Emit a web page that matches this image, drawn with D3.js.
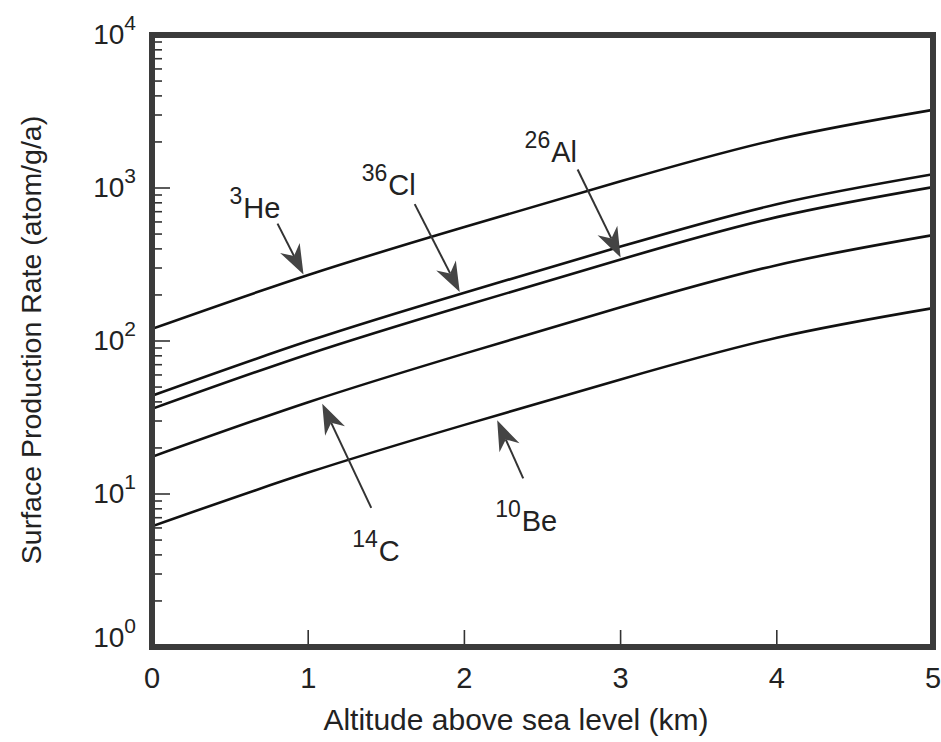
<!DOCTYPE html>
<html>
<head>
<meta charset="utf-8">
<script src="https://cdn.jsdelivr.net/npm/d3@7"></script>
<style>
  body { margin: 0; background: #fff; }
  text { font-family: "Liberation Sans", Arial, Helvetica, sans-serif; fill: #222; }
</style>
</head>
<body>
<svg id="chart" width="941" height="742"></svg>
<script>
// Surface production rates of cosmogenic nuclides versus altitude
const altitudes = [0, 1, 2, 3, 4, 5];                 // km
const he3  = [120, 270, 556, 1105, 2074, 3242];        // atom/g/a
const cl36 = [43.9, 99.9, 207, 414, 783, 1229];
const al26 = [36.0, 82.0, 170, 341, 645, 1014];
const c14  = [17.5, 39.8, 82.7, 166, 313, 492];
const be10 = [6.15, 13.8, 28.3, 56.1, 105, 164];

const massNumbers = ["3", "36", "26", "14", "10"];
const elements    = ["He", "Cl", "Al", "C", "Be"];
const seriesValues = [he3, cl36, al26, c14, be10];
// altitude (km) at which each label's arrow meets its curve
const arrowAltitudes = [0.97, 1.97, 3.0, 1.09, 2.21];

const xTickValues = [0, 1, 2, 3, 4, 5];
const yDecades = [0, 1, 2, 3, 4];

const svg = d3.select("#chart");
const plotLeft = 152, plotRight = 933, plotTop = 35, plotBottom = 647;

const x = d3.scaleLinear().domain([0, 5]).range([plotLeft, plotRight]);
const y = d3.scaleLog().domain([1, 10000]).range([plotBottom, plotTop]);

// minor and major ticks on the inside of the left edge
const tickG = svg.append("g").attr("stroke", "#333").attr("stroke-width", 1.6);
yDecades.slice(0, -1).forEach(d => {
  for (let m = 2; m <= 9; m++) {
    const yy = y(m * Math.pow(10, d));
    tickG.append("line").attr("x1", plotLeft).attr("x2", plotLeft + 10).attr("y1", yy).attr("y2", yy);
  }
});
yDecades.forEach(d => {
  const yy = y(Math.pow(10, d));
  tickG.append("line").attr("x1", plotLeft).attr("x2", plotLeft + 18).attr("y1", yy).attr("y2", yy);
});
xTickValues.slice(1, -1).forEach(v => {
  tickG.append("line").attr("x1", x(v)).attr("x2", x(v)).attr("y1", plotBottom).attr("y2", plotBottom - 17);
});

// y tick labels as powers of ten
yDecades.forEach(d => {
  const yy = y(Math.pow(10, d)) + (d === 0 ? 0 : 9);
  const t = svg.append("text").attr("x", 136).attr("y", yy).attr("text-anchor", "end");
  t.append("tspan").attr("font-size", 28).text("10");
  t.append("tspan").attr("font-size", 21).attr("dy", -14).text(String(d));
});

// x tick labels
xTickValues.forEach(v => {
  svg.append("text").attr("x", x(v)).attr("y", 688).attr("text-anchor", "middle")
    .attr("font-size", 29).text(String(v));
});

// axis titles
svg.append("text").attr("x", 516).attr("y", 730).attr("text-anchor", "middle")
  .attr("font-size", 30).text("Altitude above sea level (km)");
svg.append("text").attr("transform", "translate(41,340) rotate(-90)")
  .attr("text-anchor", "middle").attr("font-size", 28.5)
  .text("Surface Production Rate (atom/g/a)");

// curves
svg.append("clipPath").attr("id", "plot").append("rect")
  .attr("x", plotLeft).attr("y", plotTop).attr("width", plotRight - plotLeft).attr("height", plotBottom - plotTop);
const line = d3.line()
  .x((d, i) => x(altitudes[i]))
  .y(d => y(d))
  .curve(d3.curveNatural);
svg.append("g").attr("clip-path", "url(#plot)")
  .selectAll("path").data(seriesValues).join("path")
  .attr("d", line).attr("fill", "none").attr("stroke", "#111").attr("stroke-width", 2.6);

// frame
svg.append("rect").attr("x", plotLeft).attr("y", plotTop).attr("width", plotRight - plotLeft).attr("height", plotBottom - plotTop)
  .attr("fill", "none").attr("stroke", "#3b3b3b").attr("stroke-width", 6);

// value of a series at an altitude (log-linear between points)
function valueAt(vals, a) {
  const i = Math.min(Math.floor(a), altitudes.length - 2);
  const f = (a - altitudes[i]) / (altitudes[i + 1] - altitudes[i]);
  return Math.pow(10, Math.log10(vals[i]) * (1 - f) + Math.log10(vals[i + 1]) * f);
}

// arrow layout: tail offset from tip, tip gap from the curve, label offset from tail
const tailOffsets = [[-26, -51], [-45, -88], [-43, -88], [49, 104], [26, 58]];
const tipGaps = [-2, -2, -2, 6, 5];
const labelOffsets = [[-48, -6], [-53, -9], [-53, -7], [-19, 53], [-28, 53]];

const annG = svg.append("g");
seriesValues.forEach((vals, k) => {
  const a = arrowAltitudes[k];
  const tx = x(a), ty = y(valueAt(vals, a)) + tipGaps[k];
  const sx = tx + tailOffsets[k][0], sy = ty + tailOffsets[k][1];
  const ang = Math.atan2(ty - sy, tx - sx);
  const L = 30, W = 11, N = 9;
  const bx = tx - (L - N) * Math.cos(ang), by = ty - (L - N) * Math.sin(ang);
  annG.append("line").attr("x1", sx).attr("y1", sy).attr("x2", bx).attr("y2", by)
    .attr("stroke", "#333").attr("stroke-width", 2);
  annG.append("path")
    .attr("d", `M0,0L${-L},${-W}L${-L + N},0L${-L},${W}Z`)
    .attr("transform", `translate(${tx},${ty}) rotate(${ang * 180 / Math.PI})`)
    .attr("fill", "#444");
  const t = annG.append("text").attr("x", sx + labelOffsets[k][0]).attr("y", sy + labelOffsets[k][1]);
  t.append("tspan").attr("font-size", 23).attr("dy", -14).text(massNumbers[k]);
  t.append("tspan").attr("font-size", 29).attr("dy", 14).attr("dx", 1).text(elements[k]);
});
</script>
</body>
</html>
